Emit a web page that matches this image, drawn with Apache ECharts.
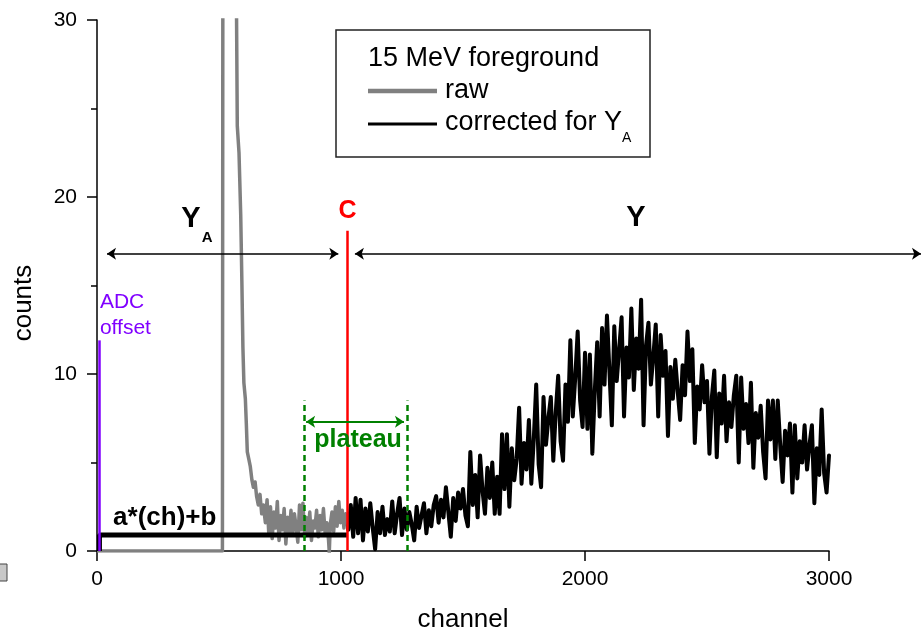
<!DOCTYPE html>
<html>
<head>
<meta charset="utf-8">
<script src="https://cdn.jsdelivr.net/npm/echarts@6/dist/echarts.min.js"></script>
<style>
  html, body { margin: 0; padding: 0; background: #fff; }
  #main { width: 921px; height: 632px; }
</style>
</head>
<body>
<div id="main"></div>
<script>
var FONT = '"Liberation Sans", Arial, sans-serif';

// corrected spectrum (black), one value every 10 channels from 1030
var corrStart = 1030;
var corrStep = 10;
var corrCounts = [
  1.2, 2.6, 0.8, 3.0, 1.0, 2.9, 0.6, 2.4, 1.1, 2.7,
  1.3, 0.1, 2.2, 1.0, 2.5, 0.9, 1.8, 1.1, 2.8, 1.0,
  2.1, 3.0, 0.9, 2.4, 1.2, 2.2, 1.5, 0.6, 2.5, 1.3,
  2.0, 2.7, 1.0, 2.3, 1.4, 2.6, 3.1, 1.6, 2.9, 1.9,
  3.6, 2.2, 0.8, 3.0, 1.7, 3.3, 2.4, 3.5, 2.0, 1.4,
  5.6, 2.6, 4.3, 1.9, 5.4, 3.4, 2.1, 4.7, 3.0, 5.0,
  2.1, 4.2, 2.1, 6.6, 3.5, 6.6, 2.5, 5.8, 4.0, 5.2,
  8.1, 3.8, 6.1, 4.6, 7.4, 3.8, 6.3, 9.4, 4.9, 3.6,
  8.7, 6.0, 7.5, 8.7, 5.1, 7.8, 9.9, 6.2, 5.1, 9.4,
  7.3, 11.9, 7.6, 9.8, 12.4, 8.5, 7.0, 11.2, 6.9, 11.1,
  5.5, 9.0, 11.8, 7.6, 12.6, 9.4, 13.3, 10.2, 7.1, 12.7,
  9.6, 11.4, 13.2, 7.6, 11.5, 9.8, 13.7, 9.1, 12.0, 10.3,
  14.2, 7.1, 11.6, 12.9, 9.4, 11.0, 12.8, 7.6, 12.2, 9.9,
  11.3, 6.5, 10.4, 8.6, 10.8, 9.0, 7.4, 10.5, 8.8, 12.4,
  9.6, 11.4, 6.1, 9.3, 8.0, 10.5, 8.4, 9.6, 5.5, 8.7,
  10.2, 5.3, 8.9, 7.2, 9.9, 6.2, 8.4, 7.0, 8.8, 9.9,
  5.0, 9.8, 6.9, 8.3, 6.1, 9.5, 4.7, 7.8, 6.4, 8.2,
  5.6, 4.1, 8.5, 6.3, 8.5, 5.2, 8.5, 6.0, 3.9, 6.8,
  5.4, 7.2, 3.3, 7.1, 4.1, 6.2, 5.0, 7.1, 4.6, 6.0,
  7.1, 2.7, 5.8, 4.3, 8.0, 4.4, 3.3, 5.4
];

// raw spectrum (grey) up to the cut, [channel, counts]
var rawData = [
  [0, 0], [514, 0], [518, 0], [519, 90], [545, 110], [566, 60], [572, 30],
  [575, 24], [582, 22.5], [589, 19], [594, 15], [598, 11.5], [602, 9.5],
  [608, 8.6], [612, 7.2], [616, 5.6], [622, 5.2], [628, 4.8], [635, 4.0],
  [641, 3.6], [648, 3.9], [654, 3.1], [661, 2.6], [668, 3.2], [675, 2.1],
  [682, 2.6], [690, 1.6], [697, 2.9], [704, 1.0], [711, 2.5], [718, 0.7],
  [725, 2.2], [732, 1.3], [739, 2.8], [746, 0.6], [753, 2.0], [760, 1.2],
  [767, 2.4], [774, 0.4], [781, 1.9], [788, 1.0], [795, 2.3], [802, 0.9],
  [809, 2.1], [816, 1.4], [823, 0.5], [830, 2.6], [837, 1.2], [844, 2.7],
  [851, 0.8], [858, 1.9], [865, 1.1], [872, 2.2], [879, 0.6], [886, 1.7],
  [893, 1.3], [900, 2.3], [907, 0.8], [914, 2.0], [921, 1.2], [928, 2.4],
  [935, 1.0], [942, 1.6], [949, 0.6], [952, -0.1], [956, 1.5], [963, 2.2],
  [970, 1.1], [977, 2.5], [984, 1.4], [991, 2.8], [998, 1.6], [1005, 2.3],
  [1012, 1.3], [1019, 2.1], [1026, 1.6], [1030, 1.2]
];

// linear background fit a*(ch)+b
var fitData = [[10, 0], [10, 0.9], [1027, 0.9]];

// annotation geometry in data units
var cutChannel = 1027, cutTop = 18.1;
var adcChannel = 8, adcTop = 11.9;
var arrowLevel = 16.8;
var arrowYA = [989, 41];
var arrowY = [1057, 3377];
var plateauEdges = [848, 1273], plateauTop = 8.5;
var plateauArrow = [857, 1258], plateauLevel = 7.3;

var corrData = corrCounts.map(function (v, i) { return [corrStart + i * corrStep, v]; });

var chart = echarts.init(document.getElementById('main'), null, { renderer: 'canvas' });

var option = {
  animation: false,
  backgroundColor: '#fff',
  grid: { left: 97, right: 92, top: 20, bottom: 81 },
  xAxis: {
    type: 'value',
    min: 0, max: 3000, interval: 1000,
    axisLine: { lineStyle: { color: '#000', width: 1.5 } },
    axisTick: { length: 10, lineStyle: { color: '#000', width: 1.5 } },
    splitLine: { show: false },
    axisLabel: {
      color: '#000', fontSize: 21, fontFamily: FONT, margin: 18,
      formatter: function (v) { return String(v); }
    }
  },
  yAxis: {
    type: 'value',
    min: 0, max: 30, interval: 10,
    axisLine: { show: true, lineStyle: { color: '#000', width: 1.5 } },
    axisTick: { show: true, length: 10, lineStyle: { color: '#000', width: 1.5 } },
    minorTick: { show: true, splitNumber: 2, length: 6, lineStyle: { color: '#000', width: 1.5 } },
    splitLine: { show: false },
    axisLabel: { color: '#000', fontSize: 21, fontFamily: FONT, margin: 20 }
  },
  series: [
    {
      name: 'raw', type: 'line', data: rawData, showSymbol: false, symbol: 'none',
      lineStyle: { color: '#808080', width: 3.5, join: 'round' }
    },
    {
      name: 'fit', type: 'line', data: fitData, showSymbol: false, symbol: 'none',
      lineStyle: { color: '#000', width: 5 }
    },
    {
      name: 'corrected for YA', type: 'line', data: corrData, showSymbol: false, symbol: 'none',
      lineStyle: { color: '#000', width: 4, join: 'round', cap: 'round' }
    },
    {
      type: 'lines', coordinateSystem: 'cartesian2d', clip: false, z: 5,
      symbol: ['none', 'none'],
      lineStyle: { opacity: 1 },
      data: [
        { coords: [[cutChannel, 0], [cutChannel, cutTop]], lineStyle: { color: '#ff0000', width: 2.5, opacity: 1 } },
        { coords: [[adcChannel, 0], [adcChannel, adcTop]], lineStyle: { color: '#8000ff', width: 2.5, opacity: 1 } },
        { coords: [[plateauEdges[0], 0], [plateauEdges[0], plateauTop]], lineStyle: { color: '#008000', width: 2.5, type: [6, 4], opacity: 1 } },
        { coords: [[plateauEdges[1], 0], [plateauEdges[1], plateauTop]], lineStyle: { color: '#008000', width: 2.5, type: [6, 4], opacity: 1 } }
      ]
    },
    {
      type: 'lines', coordinateSystem: 'cartesian2d', clip: false, z: 5,
      symbol: ['arrow', 'arrow'], symbolSize: 9,
      lineStyle: { color: '#000', width: 1.5, opacity: 1 },
      data: [
        { coords: [[arrowYA[0], arrowLevel], [arrowYA[1], arrowLevel]] },
        { coords: [[arrowY[0], arrowLevel], [arrowY[1], arrowLevel]] }
      ]
    },
    {
      type: 'lines', coordinateSystem: 'cartesian2d', clip: false, z: 5,
      symbol: ['arrow', 'arrow'], symbolSize: 9,
      lineStyle: { color: '#008000', width: 2, opacity: 1 },
      data: [
        { coords: [[plateauArrow[0], plateauLevel], [plateauArrow[1], plateauLevel]] }
      ]
    }
  ]
};
chart.setOption(option);

function px(p) { return chart.convertToPixel({ seriesIndex: 0 }, p); }
function label(text, at, opt) {
  var p = px(at);
  return {
    type: 'text', x: p[0], y: p[1], z: 100,
    style: {
      text: text,
      fill: opt.color || '#000',
      font: (opt.bold ? 'bold ' : '') + opt.size + 'px ' + FONT,
      align: opt.align || 'center',
      verticalAlign: opt.valign || 'middle',
      lineHeight: opt.lineHeight
    }
  };
}

var graphics = [
  label('ADC\noffset', [12, 14.77], { color: '#8000ff', size: 21, align: 'left', valign: 'top', lineHeight: 26 }),
  label('a*(ch)+b', [66, 1.86], { size: 26, bold: true, align: 'left' }),
  label('Y', [385, 18.76], { size: 29, bold: true }),
  label('A', [452, 17.7], { size: 15, bold: true }),
  label('C', [cutChannel, 19.2], { size: 25, bold: true, color: '#ff0000' }),
  label('Y', [2209, 18.8], { size: 29, bold: true }),
  label('plateau', [1070, 6.24], { size: 25, bold: true, color: '#008000' }),
  // axis titles
  { type: 'text', x: 24, y: 303, rotation: Math.PI / 2,
    style: { text: 'counts', font: '26px ' + FONT, fill: '#000', align: 'center', verticalAlign: 'middle' } },
  { type: 'text', x: 463, y: 620,
    style: { text: 'channel', font: '26px ' + FONT, fill: '#000', align: 'center', verticalAlign: 'middle' } },
  // legend box
  { type: 'rect', shape: { x: 336, y: 30, width: 314, height: 127 }, z: 50,
    style: { fill: '#fff', stroke: '#222', lineWidth: 1.5 } },
  { type: 'text', x: 368, y: 59, z: 51,
    style: { text: '15 MeV foreground', font: '27px ' + FONT, fill: '#000', verticalAlign: 'middle' } },
  { type: 'line', shape: { x1: 368, y1: 91, x2: 437, y2: 91 }, z: 51,
    style: { stroke: '#808080', lineWidth: 4.5 } },
  { type: 'text', x: 445, y: 91, z: 51,
    style: { text: 'raw', font: '27px ' + FONT, fill: '#000', verticalAlign: 'middle' } },
  { type: 'line', shape: { x1: 368, y1: 124, x2: 437, y2: 124 }, z: 51,
    style: { stroke: '#000', lineWidth: 3 } },
  { type: 'text', x: 445, y: 123, z: 51,
    style: { text: 'corrected for Y', font: '27px ' + FONT, fill: '#000', verticalAlign: 'middle' } },
  { type: 'text', x: 622, y: 138, z: 51,
    style: { text: 'A', font: '14px ' + FONT, fill: '#000', verticalAlign: 'middle' } },
  // small grey square at the lower left corner
  { type: 'rect', shape: { x: -8, y: 564, width: 15, height: 17 }, z: 51,
    style: { fill: '#c8c8c8', stroke: '#444', lineWidth: 1 } }
];
chart.setOption({ graphic: graphics });
</script>
</body>
</html>
